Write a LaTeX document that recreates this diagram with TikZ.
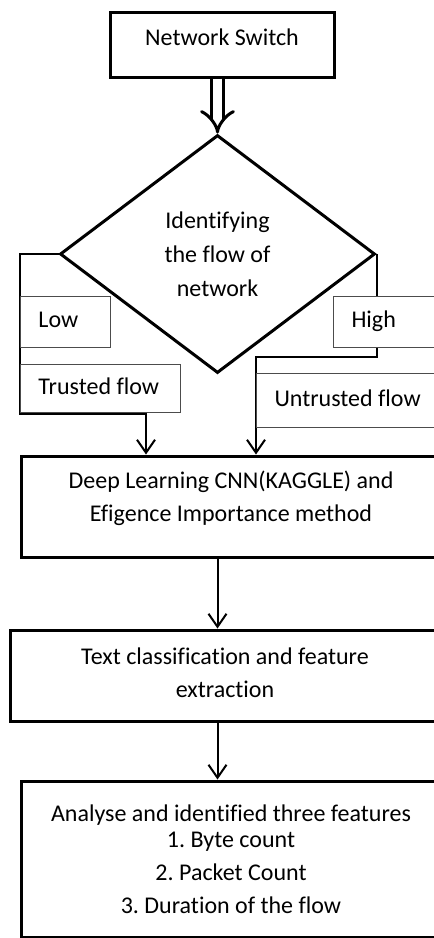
\documentclass[tikz,border=0pt]{standalone}
\usepackage{fontspec}
\setmainfont{Carlito}[Ligatures=NoCommon]
\usepackage{tikz}
\usetikzlibrary{
  arrows.meta,
  positioning,
  shapes.geometric
}
\frenchspacing

% a strut that pushes the last line of a box down
\newcommand{\dropline}[1]{\rule[-#1]{0pt}{#1}}

\tikzset{
  mainbox/.style={draw, line width=1.5pt, align=center, inner sep=0pt},
  tagbox/.style={draw=black!70, fill=white, line width=0.5pt, anchor=west,
                 align=flush left, inner xsep=9pt, inner ysep=0pt, minimum height=25.5pt,
                 text height=8.5pt, text depth=2.5pt},
  flowline/.style={line width=1pt, -{Straight Barb[length=6.5pt, width=9pt]}}
}

\begin{document}
\begin{tikzpicture}[x=0.5pt, y=-0.5pt, font=\fontsize{12}{16.5}\selectfont]
\path[use as bounding box, clip] (0,0) rectangle (434,938);

\node[mainbox, minimum width=112pt, minimum height=32.5pt] (switch) at (222,44.5)
  {Network Switch\dropline{7pt}};
\node[draw, diamond, line width=1.5pt, minimum width=157.5pt, minimum height=119pt,
      inner sep=0pt, align=center, font=\fontsize{12}{17}\selectfont] (flow) at (217.5,254)
  {Identifying\\the flow of\\network};
\node[mainbox, minimum width=210pt, minimum height=50.5pt] (deep) at (231,506.5)
  {Deep Learning CNN(KAGGLE) and\\Efigence Importance method\dropline{10.5pt}};
\node[mainbox, minimum width=215pt, minimum height=45.5pt] (text) at (225,675.5)
  {Text classification and feature\\extraction\dropline{3pt}};
\node[mainbox, minimum width=210pt, minimum height=78pt] (features) at (231,859)
  {Analyse and identified three features\\[-3.5pt]1. Byte count\\2. Packet Count\\3. Duration of the flow};

\coordinate (lcorner) at (20,414);
\coordinate (lturn) at (146,414);
\coordinate (rturn) at (256,357);

\draw[line width=1.5pt, double distance=4.5pt, -{Implies[scale=1.3]}] (switch.south -| flow.north) -- (flow.north);
\draw[flowline] (flow.west) -| (lcorner) -- (lturn) -- (lturn |- deep.north);
\draw[flowline] (flow.east) |- (rturn) -- (rturn |- deep.north);
\draw[flowline] (deep.south -| flow.south) -- (text.north -| flow.south);
\draw[flowline] (text.south -| flow.south) -- (features.north -| flow.south);

\node[tagbox, text width=27pt] (low) at (20,321.5) {Low};
\node[tagbox, text width=62pt, minimum height=24pt] (trusted) at (20,388) {Trusted flow};
\node[tagbox, text width=37pt] (high) at (333,321.5) {High};
\node[tagbox, text width=75pt, minimum height=27pt] (untrusted) at (256,400) {Untrusted flow};
\end{tikzpicture}
\end{document}
